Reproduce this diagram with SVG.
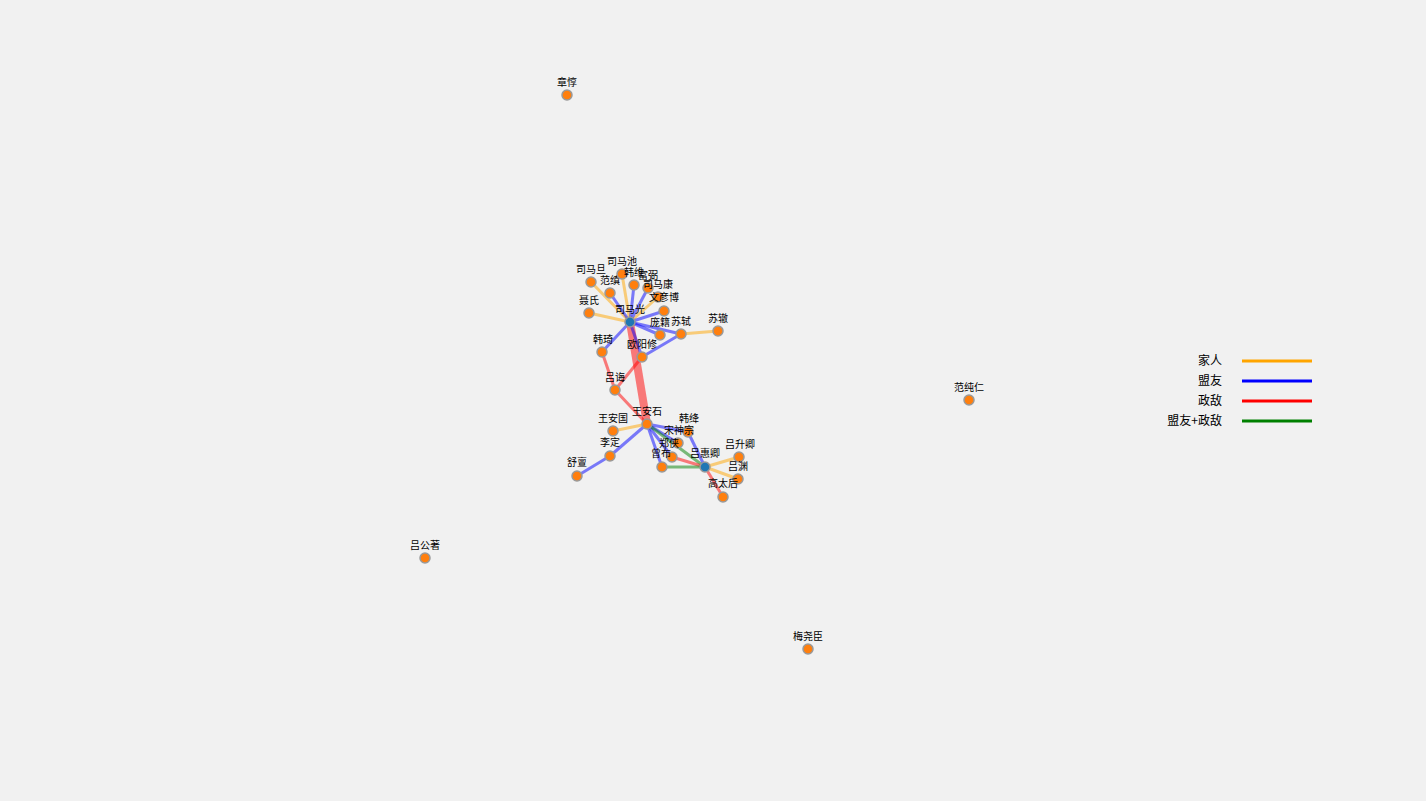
<svg xmlns="http://www.w3.org/2000/svg" width="1426" height="801" viewBox="0 0 1426 801">
<style>
.bg{fill:#f1f1f1}
.e{fill:none;stroke-opacity:0.5;stroke-width:3}
.fam{stroke:#ffa500}
.ally{stroke:#0000ff}
.foe{stroke:#ff0000}
.both{stroke:#008000}
.n circle{fill:#ff7f0e;stroke:#999;stroke-width:1.5}
.n.b circle{fill:#1f77b4}
.n text{font-family:"Noto Sans CJK SC","Noto Sans CJK TC",sans-serif;font-size:10px;text-anchor:middle;fill:#000}
.lg text{font-family:"Noto Sans CJK SC",sans-serif;font-size:12px;text-anchor:end;fill:#000}
.lg line{stroke-width:3}
</style>
<rect class="bg" x="0" y="0" width="1426" height="801"/>
<g id="connectors">
<line class="e foe" x1="630" y1="322" x2="647" y2="424" style="stroke-width:8"/>
<line class="e fam" x1="630" y1="322" x2="591" y2="282"/>
<line class="e fam" x1="630" y1="322" x2="589" y2="313"/>
<line class="e fam" x1="630" y1="322" x2="622" y2="274"/>
<line class="e fam" x1="630" y1="322" x2="658" y2="297"/>
<line class="e ally" x1="630" y1="322" x2="610" y2="293"/>
<line class="e ally" x1="630" y1="322" x2="634" y2="285"/>
<line class="e ally" x1="630" y1="322" x2="648" y2="288"/>
<line class="e ally" x1="630" y1="322" x2="664" y2="311"/>
<line class="e ally" x1="630" y1="322" x2="660" y2="335"/>
<line class="e ally" x1="630" y1="322" x2="681" y2="334"/>
<line class="e ally" x1="630" y1="322" x2="602" y2="352"/>
<line class="e ally" x1="630" y1="322" x2="642" y2="357"/>
<line class="e fam" x1="681" y1="334" x2="718" y2="331"/>
<line class="e ally" x1="681" y1="334" x2="642" y2="357"/>
<line class="e foe" x1="602" y1="352" x2="615" y2="390"/>
<line class="e foe" x1="642" y1="357" x2="615" y2="390"/>
<line class="e foe" x1="615" y1="390" x2="647" y2="424"/>
<line class="e fam" x1="647" y1="424" x2="613" y2="431"/>
<line class="e ally" x1="647" y1="424" x2="610" y2="456"/>
<line class="e ally" x1="610" y1="456" x2="577" y2="476"/>
<line class="e ally" x1="647" y1="424" x2="688" y2="432"/>
<line class="e ally" x1="647" y1="424" x2="678" y2="443"/>
<line class="e ally" x1="647" y1="424" x2="672" y2="457"/>
<line class="e ally" x1="647" y1="424" x2="662" y2="467"/>
<line class="e both" x1="647" y1="424" x2="705" y2="467"/>
<line class="e ally" x1="688" y1="432" x2="705" y2="467"/>
<line class="e foe" x1="672" y1="457" x2="705" y2="467"/>
<line class="e both" x1="662" y1="467" x2="705" y2="467"/>
<line class="e fam" x1="705" y1="467" x2="739" y2="457"/>
<line class="e fam" x1="705" y1="467" x2="738" y2="479"/>
<line class="e foe" x1="705" y1="467" x2="723" y2="497"/>
</g>
<g id="n-zhangdun" class="n"><circle cx="567" cy="95" r="5"/><text x="567" y="86">章惇</text></g>
<g id="n-fanchunren" class="n"><circle cx="969" cy="400" r="5"/><text x="969" y="391">范纯仁</text></g>
<g id="n-lvgongzhu" class="n"><circle cx="425" cy="558" r="5"/><text x="425" y="549">吕公著</text></g>
<g id="n-meiyaochen" class="n"><circle cx="808" cy="649" r="5"/><text x="808" y="640">梅尧臣</text></g>
<g id="n-simadan" class="n"><circle cx="591" cy="282" r="5"/><text x="591" y="273">司马旦</text></g>
<g id="n-niesh" class="n"><circle cx="589" cy="313" r="5"/><text x="589" y="304">聂氏</text></g>
<g id="n-fanzhen" class="n"><circle cx="610" cy="293" r="5"/><text x="610" y="284">范缜</text></g>
<g id="n-simachi" class="n"><circle cx="622" cy="274" r="5"/><text x="622" y="265">司马池</text></g>
<g id="n-hanwei" class="n"><circle cx="634" cy="285" r="5"/><text x="634" y="276">韩维</text></g>
<g id="n-fubi" class="n"><circle cx="648" cy="288" r="5"/><text x="648" y="279">富弼</text></g>
<g id="n-simakang" class="n"><circle cx="658" cy="297" r="5"/><text x="658" y="288">司马康</text></g>
<g id="n-wenyanbo" class="n"><circle cx="664" cy="311" r="5"/><text x="664" y="301">文彦博</text></g>
<g id="n-pangji" class="n"><circle cx="660" cy="335" r="5"/><text x="660" y="326">庞籍</text></g>
<g id="n-sushi" class="n"><circle cx="681" cy="334" r="5"/><text x="681" y="325">苏轼</text></g>
<g id="n-suzhe" class="n"><circle cx="718" cy="331" r="5"/><text x="718" y="322">苏辙</text></g>
<g id="n-hanqi" class="n"><circle cx="602" cy="352" r="5"/><text x="603" y="343">韩琦</text></g>
<g id="n-ouyangxiu" class="n"><circle cx="642" cy="357" r="5"/><text x="642" y="348">欧阳修</text></g>
<g id="n-simaguang" class="n b"><circle cx="630" cy="322" r="5"/><text x="630" y="313">司马光</text></g>
<g id="n-lvhui" class="n"><circle cx="615" cy="390" r="5"/><text x="615" y="381">吕诲</text></g>
<g id="n-wanganguo" class="n"><circle cx="613" cy="431" r="5"/><text x="613" y="422">王安国</text></g>
<g id="n-liding" class="n"><circle cx="610" cy="456" r="5"/><text x="610" y="446">李定</text></g>
<g id="n-shudan" class="n"><circle cx="577" cy="476" r="5"/><text x="577" y="466">舒亶</text></g>
<g id="n-hanjiang" class="n"><circle cx="688" cy="432" r="5"/><text x="689" y="422">韩绛</text></g>
<g id="n-songshenzong" class="n"><circle cx="678" cy="443" r="5"/><text x="679" y="434">宋神宗</text></g>
<g id="n-zhengxia" class="n"><circle cx="672" cy="457" r="5"/><text x="669" y="447">郑侠</text></g>
<g id="n-zengbu" class="n"><circle cx="662" cy="467" r="5"/><text x="661" y="457">曾布</text></g>
<g id="n-wanganshi" class="n"><circle cx="647" cy="424" r="5"/><text x="647" y="415">王安石</text></g>
<g id="n-lvshengqing" class="n"><circle cx="739" cy="457" r="5"/><text x="740" y="448">吕升卿</text></g>
<g id="n-lvyuan" class="n"><circle cx="738" cy="479" r="5"/><text x="738" y="470">吕渊</text></g>
<g id="n-gaotaihou" class="n"><circle cx="723" cy="497" r="5"/><text x="723" y="487">高太后</text></g>
<g id="n-lvhuiqing" class="n b"><circle cx="705" cy="467" r="5"/><text x="705" y="457">吕惠卿</text></g>
<g id="legend" class="lg">
<text x="1222" y="365">家人</text><line x1="1242" y1="361" x2="1312" y2="361" stroke="#ffa500"/>
<text x="1222" y="385">盟友</text><line x1="1242" y1="381" x2="1312" y2="381" stroke="#0000ff"/>
<text x="1222" y="405">政敌</text><line x1="1242" y1="401" x2="1312" y2="401" stroke="#ff0000"/>
<text x="1222" y="425">盟友+政敌</text><line x1="1242" y1="421" x2="1312" y2="421" stroke="#008000"/>
</g>
</svg>
